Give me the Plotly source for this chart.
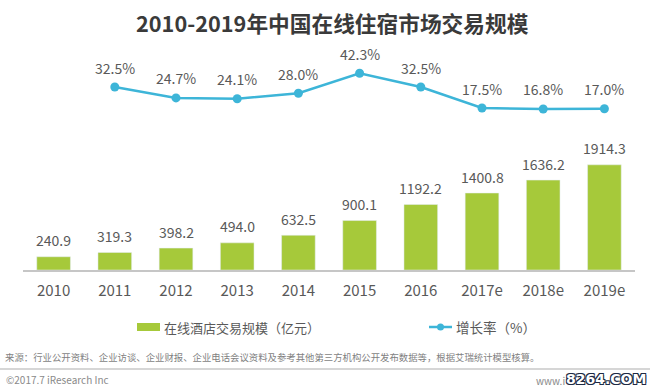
import plotly.graph_objects as go

years = ["2010", "2011", "2012", "2013", "2014", "2015", "2016", "2017e", "2018e", "2019e"]
scale = [240.9, 319.3, 398.2, 494.0, 632.5, 900.1, 1192.2, 1400.8, 1636.2, 1914.3]
growth_years = ["2011", "2012", "2013", "2014", "2015", "2016", "2017e", "2018e", "2019e"]
growth = [32.5, 24.7, 24.1, 28.0, 42.3, 32.5, 17.5, 16.8, 17.0]

W, H = 650, 388
L, R, T, B = 23, 15, 40, 118
PW, PH = W - L - R, H - T - B

def px(x):
    return (x - L) / PW

def py(y):
    return (H - B - y) / PH

BAR_C = "#a6c93a"
LINE_C = "#3db5d8"
TXT_C = "#595959"
FONT = "Noto Sans CJK SC"

fig = go.Figure()
fig.add_trace(go.Bar(x=years, y=scale, marker_color=BAR_C, yaxis="y", showlegend=False,
                     hoverinfo="skip"))
fig.add_trace(go.Scatter(x=growth_years, y=growth, yaxis="y2", mode="lines+markers",
                         line=dict(color=LINE_C, width=2.5),
                         marker=dict(color=LINE_C, size=9), showlegend=False, hoverinfo="skip"))

ann = []
for x, v in zip(years, scale):
    ann.append(dict(x=years.index(x), y=v, xref="x", yref="y", text=f"{v:.1f}", showarrow=False,
                    yanchor="middle", yshift=16.5, font=dict(size=14, color=TXT_C, family=FONT)))
for x, v in zip(growth_years, growth):
    ann.append(dict(x=years.index(x), y=v, xref="x", yref="y2", text=f"{v:.1f}%", showarrow=False,
                    yanchor="middle", yshift=19.5, font=dict(size=14, color=TXT_C, family=FONT)))

# title
ann.append(dict(x=px(332), y=py(22), xref="paper", yref="paper", showarrow=False,
                text="<b>2010-2019年中国在线住宿市场交易规模</b>", xanchor="center", yanchor="middle",
                font=dict(size=21.7, color="#3a3a3a", family=FONT)))
# legend texts
ann.append(dict(x=px(162), y=py(327), xref="paper", yref="paper", showarrow=False,
                text="在线酒店交易规模（亿元）", xanchor="left", yanchor="middle",
                font=dict(size=13, color=TXT_C, family=FONT)))
ann.append(dict(x=px(454), y=py(327), xref="paper", yref="paper", showarrow=False,
                text="增长率（%）", xanchor="left", yanchor="middle",
                font=dict(size=13.5, color=TXT_C, family=FONT)))
# footer
ann.append(dict(x=px(3), y=py(356.5), xref="paper", yref="paper", showarrow=False,
                text="来源：行业公开资料、企业访谈、企业财报、企业电话会议资料及参考其他第三方机构公开发布数据等，根据艾瑞统计模型核算。",
                xanchor="left", yanchor="middle", font=dict(size=9.4, color="#7f7f7f", family=FONT)))
ann.append(dict(x=px(4), y=py(379), xref="paper", yref="paper", showarrow=False,
                text="©2017.7 iResearch Inc", xanchor="left", yanchor="middle",
                font=dict(size=10, color="#8a8a8a", family=FONT)))
ann.append(dict(x=px(567), y=py(380), xref="paper", yref="paper", showarrow=False,
                text="www.i", xanchor="right", yanchor="middle",
                font=dict(size=10, color="#8a8a8a", family=FONT)))
ann.append(dict(x=px(648), y=py(379), xref="paper", yref="paper", showarrow=False,
                text="<b>8264.COM</b>", xanchor="right", yanchor="middle",
                font=dict(size=14, color="#ffffff", family="DejaVu Sans",
                          shadow="1px 1px 0 #1d2a44, -1px -1px 0 #1d2a44, 1px -1px 0 #1d2a44, -1px 1px 0 #1d2a44")))

shapes = [
    dict(type="rect", xref="paper", yref="paper", x0=px(137), x1=px(160), y0=py(323), y1=py(331),
         fillcolor=BAR_C, line=dict(width=0)),
    dict(type="line", xref="paper", yref="paper", x0=px(429), x1=px(452), y0=py(327), y1=py(327),
         line=dict(color=LINE_C, width=2.5)),
    dict(type="circle", xref="paper", yref="paper", x0=px(437), x1=px(444), y0=py(323.5), y1=py(330.5),
         fillcolor=LINE_C, line=dict(width=0)),
    dict(type="line", xref="paper", yref="paper", x0=px(0), x1=px(650), y0=py(369), y1=py(369),
         line=dict(color="#c8c8c8", width=1.5)),
]

fig.update_layout(
    width=W, height=H, margin=dict(l=L, r=R, t=T, b=B, autoexpand=False),
    paper_bgcolor="white", plot_bgcolor="white",
    bargap=0.45, hovermode=False,
    xaxis=dict(type="category", range=[-0.5, len(years) - 0.5], showline=True,
               linecolor="#c6c6c6", linewidth=1.5, automargin=False,
               showgrid=False, ticks="", ticklabelstandoff=6,
               tickfont=dict(size=15, color=TXT_C, family=FONT)),
    yaxis=dict(range=[0, PH * 18.2], visible=False, showgrid=False, automargin=False),
    yaxis2=dict(range=[(132.5 - (H - B)) / 1.4, (132.5 - T) / 1.4], overlaying="y",
                visible=False, showgrid=False, automargin=False),
    annotations=ann, shapes=shapes, showlegend=False,
)

fig.write_html("out.html", config={"displayModeBar": False},
               post_script="document.body.style.margin='0px';document.body.style.overflow='hidden';")
